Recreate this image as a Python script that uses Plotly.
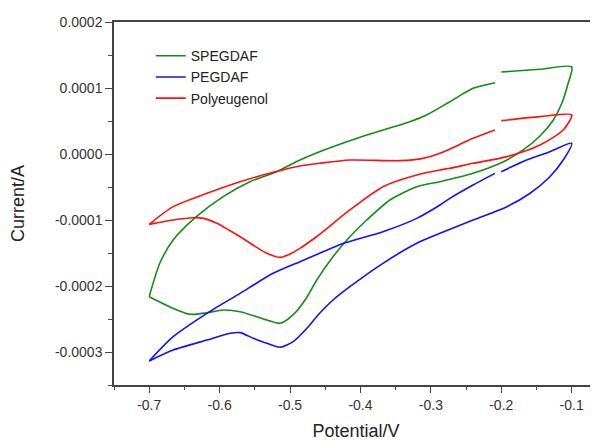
import plotly.graph_objects as go

# Potential (V) and current (1e-4 A) for each CV loop; None marks the gap in the scan
spegdaf_v = [-0.700, -0.685, -0.666, -0.633, -0.595, -0.557, -0.519, -0.486, -0.458, -0.439,
             -0.391, -0.330, -0.306, -0.273, -0.240, -0.209, None, -0.200, -0.145, -0.100,
             -0.105, -0.114, -0.126, -0.145, -0.169, -0.197, -0.240, -0.287, -0.320, -0.358,
             -0.391, -0.415, -0.439, -0.462, -0.476, -0.495, -0.514, -0.533, -0.571, -0.595,
             -0.618, -0.642, -0.666, -0.700]
spegdaf_i = [-2.162, -1.656, -1.303, -0.950, -0.647, -0.420, -0.268, -0.091, 0.035, 0.111,
             0.288, 0.489, 0.591, 0.792, 0.995, 1.080, None, 1.242, 1.283, 1.320,
             1.071, 0.768, 0.515, 0.273, 0.061, -0.117, -0.292, -0.420, -0.495, -0.697,
             -1.000, -1.253, -1.556, -1.909, -2.170, -2.430, -2.565, -2.515, -2.389, -2.364,
             -2.405, -2.429, -2.338, -2.162]

pegdaf_v = [-0.700, -0.666, -0.618, -0.571, -0.524, -0.486, -0.458, -0.424, -0.368, -0.320,
            -0.287, -0.273, -0.240, -0.209, None, -0.200, -0.164, -0.131, -0.100,
            -0.112, -0.131, -0.159, -0.192, -0.240, -0.287, -0.320, -0.368, -0.415,
            -0.439, -0.458, -0.476, -0.495, -0.514, -0.533, -0.552, -0.571, -0.585, -0.618,
            -0.666, -0.700]
pegdaf_i = [-3.136, -2.768, -2.414, -2.111, -1.808, -1.631, -1.505, -1.353, -1.177, -0.975,
            -0.773, -0.672, -0.470, -0.293, None, -0.268, -0.091, 0.035, 0.162,
            -0.091, -0.344, -0.595, -0.798, -1.000, -1.202, -1.353, -1.656, -2.010,
            -2.212, -2.414, -2.640, -2.840, -2.929, -2.869, -2.793, -2.707, -2.717, -2.818,
            -2.970, -3.136]

polyeugenol_v = [-0.700, -0.666, -0.618, -0.571, -0.524, -0.486, -0.458, -0.415, -0.344, -0.311,
                 -0.287, -0.240, -0.209, None, -0.200, -0.145, -0.100,
                 -0.112, -0.145, -0.192, -0.240, -0.273, -0.287, -0.320, -0.368, -0.415,
                 -0.462, -0.486, -0.500, -0.514, -0.533, -0.571, -0.604, -0.623, -0.637, -0.666,
                 -0.700]
polyeugenol_i = [-1.066, -0.798, -0.596, -0.420, -0.278, -0.182, -0.141, -0.091, -0.101, -0.066,
                 0.010, 0.237, 0.364, None, 0.505, 0.566, 0.591,
                 0.364, 0.136, -0.040, -0.141, -0.217, -0.242, -0.318, -0.495, -0.848,
                 -1.250, -1.430, -1.515, -1.566, -1.505, -1.253, -1.050, -0.975, -0.965, -1.000,
                 -1.066]

# Axis tick values and labels
x_tick_vals = [-0.7, -0.6, -0.5, -0.4, -0.3, -0.2, -0.1]
x_tick_text = ["-0.7", "-0.6", "-0.5", "-0.4", "-0.3", "-0.2", "-0.1"]
x_minor_vals = [-0.75, -0.65, -0.55, -0.45, -0.35, -0.25, -0.15]
y_tick_vals = [-0.0003, -0.0002, -0.0001, 0.0, 0.0001, 0.0002]
y_tick_text = ["-0.0003", "-0.0002", "-0.0001", "0.0000", "0.0001", "0.0002"]
y_minor_vals = [-0.00035, -0.00025, -0.00015, -0.00005, 0.00005, 0.00015]

def scale(vals):
    return [None if v is None else v * 1e-4 for v in vals]

series = [
    ("SPEGDAF", spegdaf_v, spegdaf_i, "#168c16"),
    ("PEGDAF", pegdaf_v, pegdaf_i, "#1010ff"),
    ("Polyeugenol", polyeugenol_v, polyeugenol_i, "#ff1010"),
]

fig = go.Figure()
for name, xv, yv, col in series:
    fig.add_trace(go.Scatter(x=xv, y=scale(yv), mode="lines", name=name,
                             line=dict(color=col, width=1.6, shape="spline", smoothing=0.7),
                             connectgaps=False))

# the page body adds an 8 px margin, so the figure is 8 px smaller each way
font_fam = "Liberation Sans, Arial, sans-serif"
fig.update_layout(
    width=590, height=433,
    margin=dict(l=106, r=0, t=14, b=56, autoexpand=False),
    paper_bgcolor="white", plot_bgcolor="white",
    font=dict(family=font_fam, color="#222"),
    showlegend=True,
    legend=dict(x=0.076, y=0.950, xanchor="left", yanchor="top",
                bgcolor="rgba(0,0,0,0)", font=dict(size=14, color="#222"),
                tracegroupgap=0),
    xaxis=dict(range=[-0.75, -0.0626], tickmode="array", tickvals=x_tick_vals, ticktext=x_tick_text,
               showline=True, linecolor="#444", linewidth=1.5, mirror=True,
               ticks="outside", ticklen=6, tickwidth=1.2, tickcolor="#444",
               minor=dict(ticks="outside", ticklen=3, tickmode="array", tickvals=x_minor_vals,
                          tickcolor="#444", showgrid=False),
               showgrid=False, zeroline=False, automargin=False,
               tickfont=dict(size=14, color="#333"),
               title=dict(text="Potential/V", font=dict(size=18, color="#222"), standoff=14)),
    yaxis=dict(range=[-0.00035, 0.0002], tickmode="array", tickvals=y_tick_vals, ticktext=y_tick_text,
               showline=True, linecolor="#444", linewidth=1.5,
               ticks="outside", ticklen=7, tickwidth=1.2, tickcolor="#444",
               minor=dict(ticks="outside", ticklen=4, tickmode="array", tickvals=y_minor_vals,
                          tickcolor="#444", showgrid=False),
               showgrid=False, zeroline=False, automargin=False,
               tickfont=dict(size=14, color="#333"),
               title=dict(text="Current/A", font=dict(size=18, color="#222"), standoff=28)),
)

fig.write_html("out.html")
